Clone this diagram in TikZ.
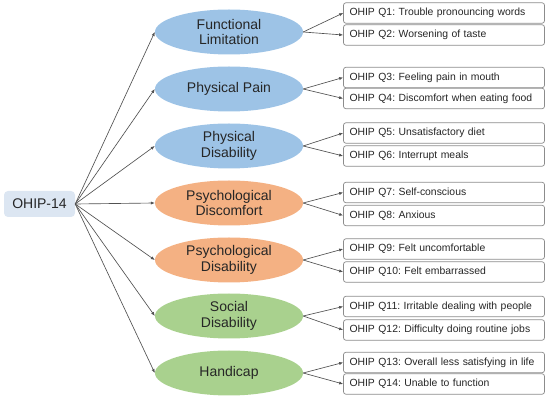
\documentclass[tikz,border=0pt]{standalone}
\usepackage{fontspec}
\setmainfont{Liberation Sans}
\usepackage{tikz}
\usetikzlibrary{shapes.geometric, arrows.meta, positioning}
\frenchspacing

\definecolor{rootblue}{HTML}{DCE6F2}
\definecolor{domblue}{HTML}{9DC3E6}
\definecolor{domorange}{HTML}{F4B183}
\definecolor{domgreen}{HTML}{A9D18E}
\definecolor{inkgray}{HTML}{262626}
\definecolor{edgegray}{HTML}{8C8C8C}

\begin{document}
\begin{tikzpicture}[x=1pt, y=-1pt,
    every node/.style={text=inkgray},
    rootbox/.style={rectangle, rounded corners=4pt, fill=rootblue, minimum width=71pt,
        minimum height=26pt, font=\fontsize{14}{16}\selectfont},
    dombox/.style={ellipse, minimum width=148pt, minimum height=45pt, inner sep=0pt,
        align=center, font=\fontsize{14}{15.7}\selectfont},
    qbox/.style={rectangle, rounded corners=2.5pt, draw=edgegray, fill=white, line width=0.7pt,
        minimum height=20.5pt, text width=189pt, inner xsep=6pt, inner ysep=0pt, align=left,
        font=\fontsize{10.4}{12}\selectfont},
    link/.style={draw=inkgray!80, line width=0.65pt, -{Latex[length=4pt,width=3.2pt]}}]
    \useasboundingbox (0,0) rectangle (550,406);

    % Root
    \node[rootbox] (ohip) at (39.5,204) {OHIP-14};

    % Domains
    \node[dombox, fill=domblue] (fl) at (229,32) {Functional\\Limitation};
    \node[dombox, fill=domblue] (pp) at (229,89) {Physical Pain};
    \node[dombox, fill=domblue] (pd) at (229,146) {Physical\\Disability};
    \node[dombox, fill=domorange] (pdc) at (229,203) {Psychological\\Discomfort};
    \node[dombox, fill=domorange] (psd) at (229,260) {Psychological\\Disability};
    \node[dombox, fill=domgreen] (sd) at (229,316) {Social\\Disability};
    \node[dombox, fill=domgreen] (hc) at (229,373) {Handicap};

    % Questions
    \node[qbox] (q1) at (444,13) {OHIP Q1: Trouble pronouncing words};
    \node[qbox] (q2) at (444,35) {OHIP Q2: Worsening of taste};
    \node[qbox] (q3) at (444,77.5) {OHIP Q3: Feeling pain in mouth};
    \node[qbox] (q4) at (444,98.5) {OHIP Q4: Discomfort when eating food};
    \node[qbox] (q5) at (444,133) {OHIP Q5: Unsatisfactory diet};
    \node[qbox] (q6) at (444,156) {OHIP Q6: Interrupt meals};
    \node[qbox] (q7) at (444,192.5) {OHIP Q7: Self-conscious};
    \node[qbox] (q8) at (444,215.5) {OHIP Q8: Anxious};
    \node[qbox] (q9) at (444,249) {OHIP Q9: Felt uncomfortable};
    \node[qbox] (q10) at (444,272) {OHIP Q10: Felt embarrassed};
    \node[qbox] (q11) at (444,306.5) {OHIP Q11: Irritable dealing with people};
    \node[qbox] (q12) at (444,330) {OHIP Q12: Difficulty doing routine jobs};
    \node[qbox] (q13) at (444,362.5) {OHIP Q13: Overall less satisfying in life};
    \node[qbox] (q14) at (444,384) {OHIP Q14: Unable to function};

    % Root to domains
    \foreach \d in {fl,pp,pd,pdc,psd,sd,hc}
        \draw[link] (ohip.east) -- (\d.west);

    % Domains to questions
    \foreach \d/\a/\b in {fl/q1/q2, pp/q3/q4, pd/q5/q6, pdc/q7/q8, psd/q9/q10, sd/q11/q12, hc/q13/q14} {
        \draw[link] (\d.east) -- (\a.west);
        \draw[link] (\d.east) -- (\b.west);
    }
\end{tikzpicture}
\end{document}
